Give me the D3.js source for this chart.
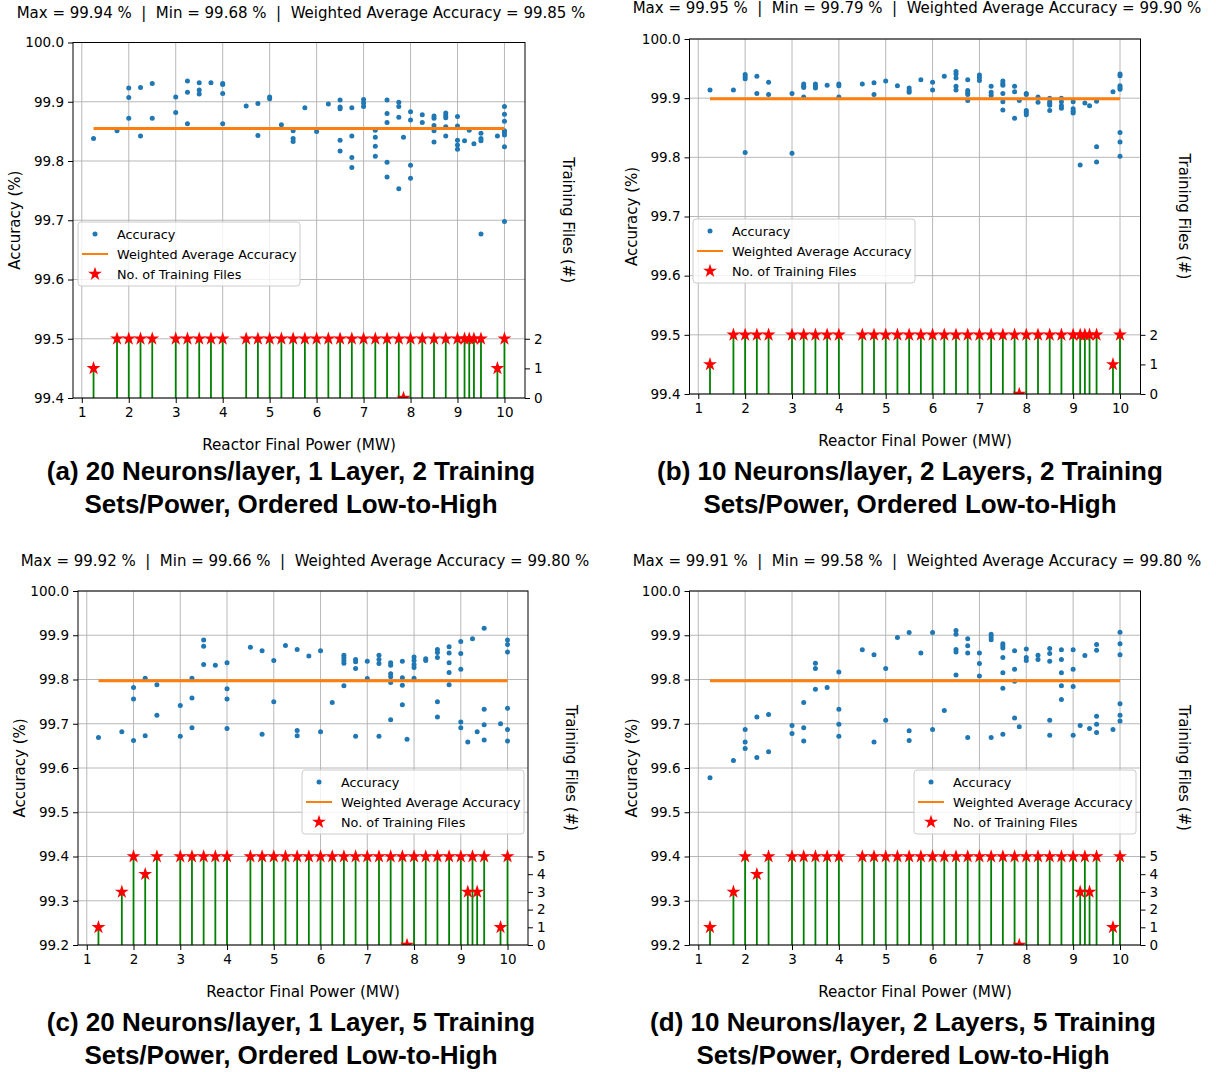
<!DOCTYPE html>
<html>
<head>
<meta charset="utf-8">
<script src="https://cdn.jsdelivr.net/npm/d3@7"></script>
<style>
  body { margin: 0; background: #fff; }
  svg text { font-family: "DejaVu Sans", sans-serif; fill: #000; }
  .title { white-space: pre; }
  .caption { font-family: "Liberation Sans", Arial, sans-serif; font-weight: bold; font-size: 26px; }
</style>
</head>
<body>
<svg id="chart" width="1216" height="1072"></svg>
<script>
// power levels (MW) of the training files
var powers = [1.25, 1.75, 2, 2.25, 2.5, 3, 3.25, 3.5, 3.75, 4, 4.5, 4.75, 5, 5.25, 5.5, 5.75, 6, 6.25,
  6.5, 6.75, 7, 7.25, 7.5, 7.75, 7.85, 8, 8.25, 8.5, 8.75, 9, 9.15, 9.25, 9.35, 9.5, 9.85, 10];

// number of training files per power
var countsA = [1, 2, 2, 2, 2, 2, 2, 2, 2, 2, 2, 2, 2, 2, 2, 2, 2, 2, 2, 2, 2, 2, 2, 2, 0, 2, 2, 2, 2, 2, 2, 2, 2, 2, 1, 2];
var countsB = [1, 2, 2, 2, 2, 2, 2, 2, 2, 2, 2, 2, 2, 2, 2, 2, 2, 2, 2, 2, 2, 2, 2, 2, 0, 2, 2, 2, 2, 2, 2, 2, 2, 2, 1, 2];
var countsC = [1, 3, 5, 4, 5, 5, 5, 5, 5, 5, 5, 5, 5, 5, 5, 5, 5, 5, 5, 5, 5, 5, 5, 5, 0, 5, 5, 5, 5, 5, 3, 5, 3, 5, 1, 5];
var countsD = [1, 3, 5, 4, 5, 5, 5, 5, 5, 5, 5, 5, 5, 5, 5, 5, 5, 5, 5, 5, 5, 5, 5, 5, 0, 5, 5, 5, 5, 5, 3, 5, 3, 5, 1, 5];

// accuracy (%) of the test points, grouped by power
var accA = [
  [1.25, [99.838]], [1.75, [99.851]], [2, [99.923, 99.907, 99.872]], [2.25, [99.924, 99.842]],
  [2.5, [99.931, 99.872]], [3, [99.908, 99.882]], [3.25, [99.935, 99.916, 99.863]],
  [3.5, [99.932, 99.920, 99.913]], [3.75, [99.932]], [4, [99.931, 99.929, 99.914, 99.863]],
  [4.5, [99.893]], [4.75, [99.897, 99.843]], [5, [99.908, 99.905]], [5.25, [99.861]],
  [5.5, [99.851, 99.838, 99.833]], [5.75, [99.890]], [6, [99.850]], [6.25, [99.896]],
  [6.5, [99.903, 99.891, 99.888, 99.835, 99.817]], [6.75, [99.890, 99.842, 99.806, 99.789]],
  [7, [99.904, 99.898, 99.892]], [7.25, [99.852, 99.840, 99.825, 99.808]],
  [7.5, [99.903, 99.880, 99.865, 99.798, 99.773]], [7.75, [99.899, 99.892, 99.874, 99.753]],
  [7.85, [99.840]], [8, [99.883, 99.869, 99.793, 99.771]], [8.25, [99.878, 99.865]],
  [8.5, [99.876, 99.872, 99.860, 99.851, 99.832]], [8.75, [99.881, 99.877, 99.873, 99.858, 99.842]],
  [9, [99.875, 99.859, 99.835, 99.827, 99.820]], [9.15, [99.834]], [9.25, [99.852]], [9.35, [99.829]],
  [9.5, [99.847, 99.838, 99.834, 99.677]], [9.85, [99.842]],
  [10, [99.892, 99.879, 99.867, 99.851, 99.848, 99.844, 99.824, 99.698]]
];
var accB = [
  [1.25, [99.914]], [1.75, [99.914]], [2, [99.940, 99.936, 99.933, 99.808]], [2.25, [99.937, 99.908]],
  [2.5, [99.927, 99.906]], [3, [99.908, 99.807]], [3.25, [99.924, 99.920, 99.918, 99.902]],
  [3.5, [99.924, 99.920, 99.917]], [3.75, [99.922]], [4, [99.924, 99.921, 99.902]],
  [4.5, [99.924]], [4.75, [99.926, 99.906]], [5, [99.929]], [5.25, [99.921]],
  [5.5, [99.917, 99.913, 99.910]], [5.75, [99.931]], [6, [99.927, 99.914]], [6.25, [99.937]],
  [6.5, [99.945, 99.941, 99.934, 99.920, 99.914]], [6.75, [99.931, 99.913, 99.909, 99.906, 99.896]],
  [7, [99.939, 99.935, 99.930]], [7.25, [99.920, 99.910, 99.905]],
  [7.5, [99.929, 99.925, 99.922, 99.908, 99.894, 99.880]], [7.75, [99.920, 99.911, 99.866]],
  [7.85, [99.896]], [8, [99.908, 99.906, 99.879, 99.876, 99.872]], [8.25, [99.902, 99.893]],
  [8.5, [99.900, 99.894, 99.891, 99.888, 99.879]], [8.75, [99.900, 99.894, 99.887, 99.883]],
  [9, [99.894, 99.882, 99.878, 99.875]], [9.15, [99.787]], [9.25, [99.892]], [9.35, [99.887]],
  [9.5, [99.895, 99.818, 99.792]], [9.85, [99.911]],
  [10, [99.941, 99.938, 99.921, 99.918, 99.915, 99.842, 99.826, 99.802]]
];
var accC = [
  [1.25, [99.669]], [1.75, [99.682]], [2, [99.782, 99.756, 99.662]], [2.25, [99.803, 99.673]],
  [2.5, [99.788, 99.719]], [3, [99.741, 99.672]], [3.25, [99.803, 99.758, 99.691]],
  [3.5, [99.889, 99.875, 99.834]], [3.75, [99.832]], [4, [99.838, 99.779, 99.756, 99.689]],
  [4.5, [99.873]], [4.75, [99.865, 99.676]], [5, [99.843, 99.750]], [5.25, [99.877]],
  [5.5, [99.868, 99.685, 99.673]], [5.75, [99.853]], [6, [99.865, 99.682]], [6.25, [99.748]],
  [6.5, [99.855, 99.849, 99.843, 99.837, 99.786]], [6.75, [99.845, 99.840, 99.825, 99.672]],
  [7, [99.841, 99.802]], [7.25, [99.855, 99.845, 99.836, 99.672]],
  [7.5, [99.838, 99.832, 99.813, 99.806, 99.793, 99.709]], [7.75, [99.841, 99.804, 99.787, 99.743]],
  [7.85, [99.665]], [8, [99.851, 99.843, 99.834, 99.827, 99.803]], [8.25, [99.847, 99.843]],
  [8.5, [99.868, 99.861, 99.850, 99.750, 99.715]], [8.75, [99.874, 99.860, 99.838, 99.816, 99.788]],
  [9, [99.886, 99.859, 99.823, 99.704, 99.691]], [9.15, [99.659]], [9.25, [99.892]], [9.35, [99.682]],
  [9.5, [99.916, 99.733, 99.698, 99.663]], [9.85, [99.700]],
  [10, [99.889, 99.879, 99.862, 99.735, 99.687, 99.661]]
];
var accD = [
  [1.25, [99.578]], [1.75, [99.617]], [2, [99.687, 99.659, 99.644]], [2.25, [99.715, 99.624]],
  [2.5, [99.721, 99.637]], [3, [99.696, 99.678]], [3.25, [99.748, 99.691, 99.661]],
  [3.5, [99.837, 99.825, 99.778]], [3.75, [99.782]], [4, [99.817, 99.733, 99.699, 99.672]],
  [4.5, [99.867]], [4.75, [99.856, 99.659]], [5, [99.825, 99.708]], [5.25, [99.895]],
  [5.5, [99.906, 99.684, 99.662]], [5.75, [99.860]], [6, [99.906, 99.687]], [6.25, [99.730]],
  [6.5, [99.911, 99.902, 99.868, 99.862, 99.810]], [6.75, [99.892, 99.876, 99.860, 99.669]],
  [7, [99.860, 99.836, 99.808]], [7.25, [99.902, 99.896, 99.890, 99.669]],
  [7.5, [99.881, 99.876, 99.871, 99.850, 99.815, 99.780, 99.676]], [7.75, [99.865, 99.823, 99.796, 99.713]],
  [7.85, [99.693]], [8, [99.869, 99.850, 99.843]], [8.25, [99.855, 99.845]],
  [8.5, [99.870, 99.859, 99.841, 99.708, 99.674]], [8.75, [99.867, 99.845, 99.815, 99.786, 99.755]],
  [9, [99.867, 99.823, 99.784, 99.674]], [9.15, [99.696]], [9.25, [99.854]], [9.35, [99.689]],
  [9.5, [99.879, 99.866, 99.717, 99.699, 99.680]], [9.85, [99.687]],
  [10, [99.907, 99.881, 99.856, 99.745, 99.719, 99.706]]
];

// weighted average accuracy per panel
var avgA = 99.855, avgB = 99.899, avgC = 99.797, avgD = 99.797;

var titles = [
  "Max = 99.94 %  |  Min = 99.68 %  |  Weighted Average Accuracy = 99.85 %",
  "Max = 99.95 %  |  Min = 99.79 %  |  Weighted Average Accuracy = 99.90 %",
  "Max = 99.92 %  |  Min = 99.66 %  |  Weighted Average Accuracy = 99.80 %",
  "Max = 99.91 %  |  Min = 99.58 %  |  Weighted Average Accuracy = 99.80 %"
];
var captions = [
  ["(a) 20 Neurons/layer, 1 Layer, 2 Training", "Sets/Power, Ordered Low-to-High"],
  ["(b) 10 Neurons/layer, 2 Layers, 2 Training", "Sets/Power, Ordered Low-to-High"],
  ["(c) 20 Neurons/layer, 1 Layer, 5 Training", "Sets/Power, Ordered Low-to-High"],
  ["(d) 10 Neurons/layer, 2 Layers, 5 Training", "Sets/Power, Ordered Low-to-High"]
];
var xTicks = [1, 2, 3, 4, 5, 6, 7, 8, 9, 10];
var legendLabels = ["Accuracy", "Weighted Average Accuracy", "No. of Training Files"];

var svg = d3.select("#chart");

var panels = [
  { acc: accA, counts: countsA, avg: avgA, title: titles[0], caption: captions[0],
    L: 73, R: 525, T: 42.5, B: 398, yMin: 99.4, rMax: 12, rTicks: [0, 1, 2],
    titleY: 18, legX: 78, legY: 222, capX: 291, capY: 480 },
  { acc: accB, counts: countsB, avg: avgB, title: titles[1], caption: captions[1],
    L: 689.5, R: 1140.5, T: 39, B: 394, yMin: 99.4, rMax: 12, rTicks: [0, 1, 2],
    titleY: 13, legX: 693, legY: 219, capX: 910, capY: 480 },
  { acc: accC, counts: countsC, avg: avgC, title: titles[2], caption: captions[2],
    L: 78, R: 528, T: 591, B: 945, yMin: 99.2, rMax: 20, rTicks: [0, 1, 2, 3, 4, 5],
    titleY: 566, legX: 302, legY: 770, capX: 291, capY: 1031 },
  { acc: accD, counts: countsD, avg: avgD, title: titles[3], caption: captions[3],
    L: 689.5, R: 1140.5, T: 591, B: 945, yMin: 99.2, rMax: 20, rTicks: [0, 1, 2, 3, 4, 5],
    titleY: 566, legX: 914, legY: 770, capX: 903, capY: 1031 }
];

var star = d3.symbol().type(d3.symbolStar).size(60);

panels.forEach(function (p, i) {
  var g = svg.append("g");

  var x = d3.scaleLinear().domain([0.8125, 10.4375]).range([p.L, p.R]);
  var y = d3.scaleLinear().domain([p.yMin, 100]).range([p.B, p.T]);
  var y2 = d3.scaleLinear().domain([0, p.rMax]).range([p.B, p.T]);
  var yTicks = d3.range(Math.round((100 - p.yMin) * 10) + 1).map(function (k) { return p.yMin + k / 10; });

  g.append("clipPath").attr("id", "clip" + i)
    .append("rect").attr("x", p.L).attr("y", p.T).attr("width", p.R - p.L).attr("height", p.B - p.T);

  // grid
  g.selectAll(".gx").data(xTicks).join("line")
    .attr("x1", function (d) { return x(d); }).attr("x2", function (d) { return x(d); })
    .attr("y1", p.T).attr("y2", p.B)
    .attr("stroke", "#b0b0b0").attr("stroke-width", 0.9);
  g.selectAll(".gy").data(yTicks).join("line")
    .attr("y1", function (d) { return y(d); }).attr("y2", function (d) { return y(d); })
    .attr("x1", p.L).attr("x2", p.R)
    .attr("stroke", "#b0b0b0").attr("stroke-width", 0.9);

  var plot = g.append("g").attr("clip-path", "url(#clip" + i + ")");

  // accuracy points
  var pts = [];
  p.acc.forEach(function (d) { d[1].forEach(function (v) { pts.push([d[0], v]); }); });
  plot.selectAll("circle").data(pts).join("circle")
    .attr("cx", function (d) { return x(d[0]); })
    .attr("cy", function (d) { return y(d[1]); })
    .attr("r", 2.5).attr("fill", "#1f77b4");

  // weighted average line
  plot.append("path")
    .datum(powers)
    .attr("d", d3.line().x(function (d) { return x(d); }).y(function () { return y(p.avg); }))
    .attr("fill", "none").attr("stroke", "#ff7f0e").attr("stroke-width", 3);

  // stems on the twin axis
  plot.selectAll(".stem").data(powers).join("line")
    .attr("x1", function (d) { return x(d); }).attr("x2", function (d) { return x(d); })
    .attr("y1", y2(0))
    .attr("y2", function (d, k) { return y2(p.counts[k]); })
    .attr("stroke", "#008000").attr("stroke-width", 1.8);
  plot.selectAll(".star").data(powers).join("path")
    .attr("d", star)
    .attr("transform", function (d, k) { return "translate(" + x(d) + "," + y2(p.counts[k]) + ")"; })
    .attr("fill", "#ff0000");

  // frame
  g.append("rect").attr("x", p.L).attr("y", p.T).attr("width", p.R - p.L).attr("height", p.B - p.T)
    .attr("fill", "none").attr("stroke", "#000").attr("stroke-width", 1);

  // axes
  var xAxis = g.append("g").attr("transform", "translate(0," + p.B + ")")
    .call(d3.axisBottom(x).tickValues(xTicks).tickSize(5).tickPadding(4).tickSizeOuter(0).tickFormat(d3.format("d")));
  var yAxis = g.append("g").attr("transform", "translate(" + p.L + ",0)")
    .call(d3.axisLeft(y).tickValues(yTicks).tickSize(5).tickPadding(4).tickSizeOuter(0).tickFormat(d3.format(".1f")));
  var rAxis = g.append("g").attr("transform", "translate(" + p.R + ",0)")
    .call(d3.axisRight(y2).tickValues(p.rTicks).tickSize(5).tickPadding(4).tickSizeOuter(0).tickFormat(d3.format("d")));
  [xAxis, yAxis, rAxis].forEach(function (a) {
    a.select(".domain").remove();
    a.attr("font-family", null).attr("font-size", null);
    a.selectAll("text").style("font-size", "13.5px");
    a.selectAll("line").attr("stroke", "#000");
  });

  // labels
  var cx = (p.L + p.R) / 2, cy = (p.T + p.B) / 2;
  g.append("text").attr("class", "title").attr("x", cx + 2).attr("y", p.titleY).attr("text-anchor", "middle")
    .style("font-size", "15px").text(p.title);
  g.append("text").attr("x", cx).attr("y", p.B + 52).attr("text-anchor", "middle")
    .style("font-size", "15.2px").text("Reactor Final Power (MW)");
  g.append("text").attr("transform", "translate(" + (p.L - 58) + "," + cy + ") rotate(-90)")
    .attr("text-anchor", "middle").attr("dominant-baseline", "central")
    .style("font-size", "15px").text("Accuracy (%)");
  g.append("text").attr("transform", "translate(" + (p.R + 43) + "," + cy + ") rotate(90)")
    .attr("text-anchor", "middle").attr("dominant-baseline", "central")
    .style("font-size", "15px").text("Training Files (#)");

  // legend
  var lg = g.append("g").attr("transform", "translate(" + p.legX + "," + p.legY + ")");
  lg.append("rect").attr("width", 222).attr("height", 64).attr("rx", 3)
    .attr("fill", "#fff").attr("fill-opacity", 0.8).attr("stroke", "#cccccc");
  lg.append("circle").attr("cx", 17).attr("cy", 12).attr("r", 2.5).attr("fill", "#1f77b4");
  lg.append("line").attr("x1", 4).attr("x2", 30).attr("y1", 32).attr("y2", 32)
    .attr("stroke", "#ff7f0e").attr("stroke-width", 2);
  lg.append("path").attr("d", star).attr("transform", "translate(17,52)").attr("fill", "#ff0000");
  lg.selectAll(".lt").data(legendLabels).join("text")
    .attr("x", 39).attr("y", function (d, k) { return 12 + k * 20; })
    .attr("dominant-baseline", "central")
    .style("font-size", "12.8px").text(function (d) { return d; });

  // caption
  g.selectAll(".cap").data(p.caption).join("text")
    .attr("class", "caption")
    .attr("x", p.capX).attr("y", function (d, k) { return p.capY + k * 33; })
    .attr("text-anchor", "middle").text(function (d) { return d; });
});
</script>
</body>
</html>
